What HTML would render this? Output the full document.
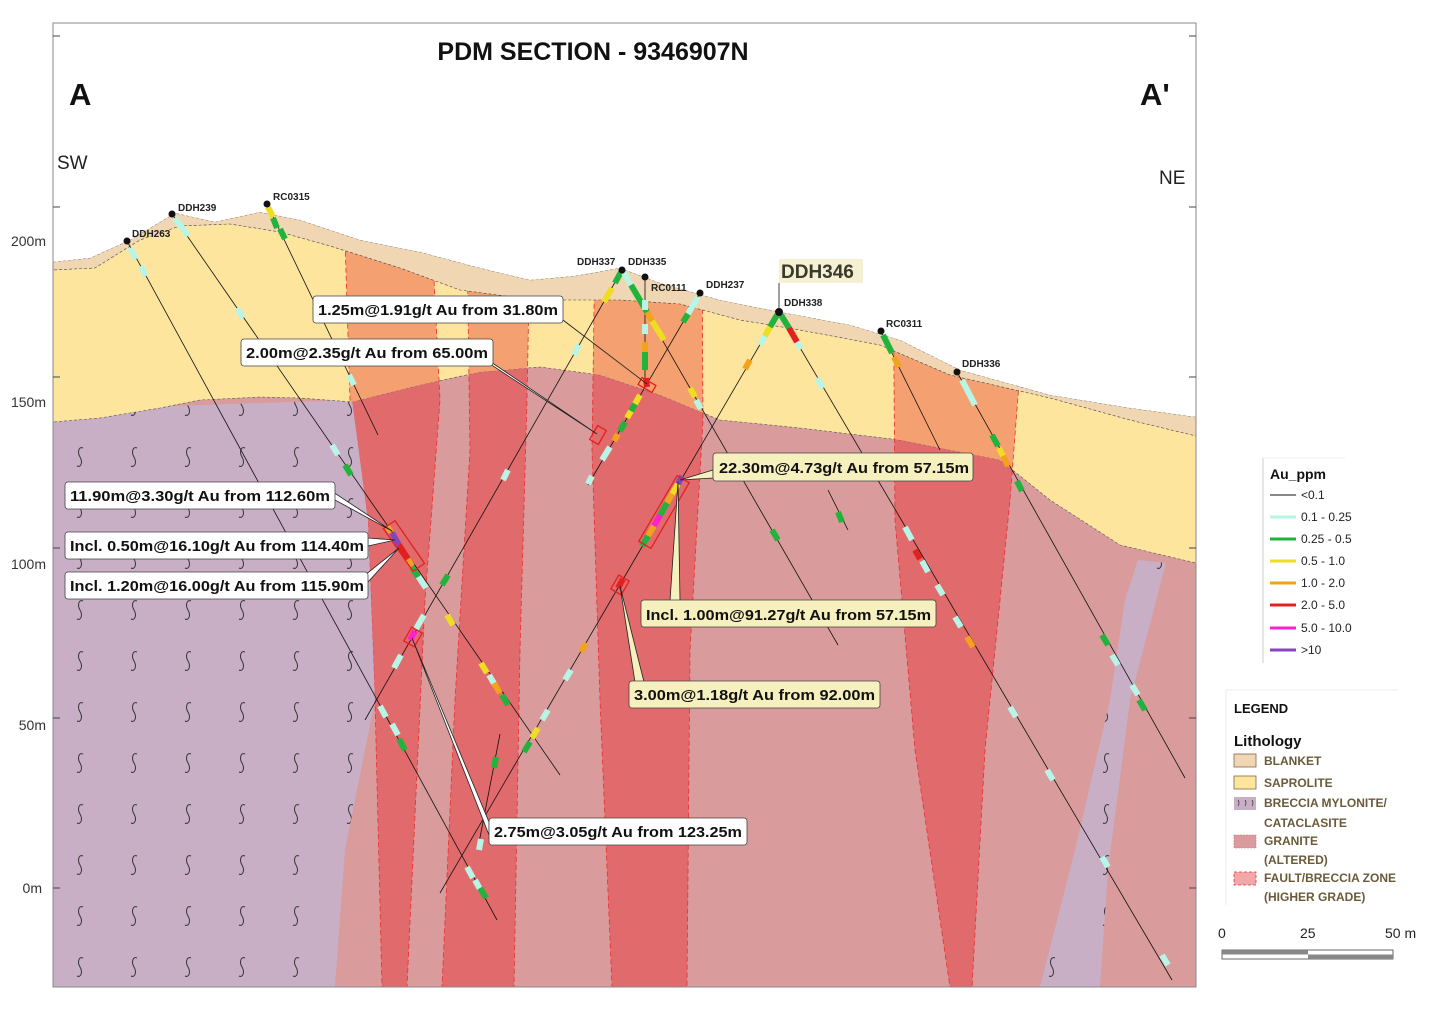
<!DOCTYPE html>
<html><head><meta charset="utf-8"><style>
html,body{margin:0;padding:0;background:#fff;}
svg{display:block;font-family:"Liberation Sans",sans-serif;}
.cl{font-weight:bold;font-size:15px;fill:#111;}
.dl{font-weight:bold;font-size:10px;fill:#222;}
.lg{font-size:12px;fill:#222;}
.lt{font-weight:bold;font-size:12px;fill:#6b5a3a;}
</style></head><body>
<svg width="1429" height="1011" viewBox="0 0 1429 1011" xmlns="http://www.w3.org/2000/svg">
<defs>
<pattern id="sq" x="53" y="430" width="54" height="51" patternUnits="userSpaceOnUse">
<path d="M30,18 c-4,-2 -6,4 -3,9 c3,5 1,11 -3,9" fill="none" stroke="#333" stroke-width="1"/>
</pattern>
<clipPath id="sap"><polygon points="53,262 90,258 130,240 175,213 215,222 260,212 300,220 360,240 420,252 480,268 530,280 575,276 620,268 660,283 720,300 780,312 850,325 900,340 960,370 1050,395 1130,408 1196,417 1196,563 1120,545 1050,500 1000,460 900,440 800,428 720,420 660,395 600,375 540,367 480,372 420,385 352,402 300,398 260,397 200,400 160,408 100,418 53,422"/></clipPath>
</defs>
<rect x="53" y="23" width="1143" height="964" fill="#d99b9b"/>
<g fill="#e06a6c" stroke="#e8302f" stroke-width="0.8" stroke-dasharray="5,3">
<polygon points="345,240 432,240 440,400 425,600 407,987 382,987 375,700 368,520 350,400"/>
<polygon points="467,240 530,240 527,400 520,650 514,987 442,987 455,700 470,450"/>
<polygon points="595,240 702,240 703,420 690,650 687,987 612,987 600,700 592,450"/>
<polygon points="893,240 1030,240 1010,500 985,750 972,987 950,987 915,750 895,520"/>
</g>
<g fill="#c8afc6">
<polygon points="53,410 352,400 368,520 375,700 345,850 335,987 53,987"/>
<polygon points="1138,560 1166,563 1130,700 1108,870 1100,987 1040,987 1075,850 1110,700 1125,600"/>
</g>
<g fill="url(#sq)">
<polygon points="53,410 352,400 368,520 375,700 345,850 335,987 53,987"/>
<polygon points="1138,560 1166,563 1130,700 1108,870 1100,987 1040,987 1075,850 1110,700 1125,600"/>
</g>
<polygon fill="#fde59e" stroke="#555" stroke-width="0.6" stroke-dasharray="3,2" points="53,262 90,258 130,240 175,213 215,222 260,212 300,220 360,240 420,252 480,268 530,280 575,276 620,268 660,283 720,300 780,312 850,325 900,340 960,370 1050,395 1130,408 1196,417 1196,563 1120,545 1050,500 1000,460 900,440 800,428 720,420 660,395 600,375 540,367 480,372 420,385 352,402 300,398 260,397 200,400 160,408 100,418 53,422"/>
<g clip-path="url(#sap)" fill="#f4a070" stroke="#e8302f" stroke-width="0.8" stroke-dasharray="5,3">
<polygon points="345,240 432,240 440,400 425,600 407,987 382,987 375,700 368,520 350,400"/>
<polygon points="467,240 530,240 527,400 520,650 514,987 442,987 455,700 470,450"/>
<polygon points="595,240 702,240 703,420 690,650 687,987 612,987 600,700 592,450"/>
<polygon points="893,240 1030,240 1010,500 985,750 972,987 950,987 915,750 895,520"/>
</g>
<polygon fill="#f0d6b2" stroke="#444" stroke-width="0.6" stroke-dasharray="3,2" points="53,262 90,258 130,240 175,213 215,222 260,212 300,220 360,240 420,252 480,268 530,280 575,276 620,268 660,283 720,300 780,312 850,325 900,340 960,370 1050,395 1130,408 1196,417 1196,436 1130,420 1050,398 950,375 880,345 800,330 740,320 680,304 620,300 560,300 520,298 460,290 400,268 330,246 280,232 230,224 180,226 140,240 95,268 53,270"/>
<polygon fill="#fff" points="53,23 1196,23 1196,417 1130,408 1050,395 960,370 900,340 850,325 780,312 720,300 660,283 620,268 575,276 530,280 480,268 420,252 360,240 300,220 260,212 215,222 175,213 130,240 90,258 53,262"/>

<!-- drill holes -->
<g stroke="#111" stroke-width="0.8" fill="none">
<line x1="127" y1="241" x2="497" y2="920"/>
<line x1="172" y1="214" x2="560" y2="775"/>
<line x1="267" y1="204" x2="378" y2="435"/>
<line x1="622" y1="270" x2="365" y2="720"/>
<line x1="622" y1="270" x2="838" y2="645"/>
<line x1="645" y1="277" x2="645" y2="385"/>
<line x1="700" y1="293" x2="588" y2="485"/>
<line x1="779" y1="312" x2="440" y2="893"/>
<line x1="779" y1="312" x2="1172" y2="980"/>
<line x1="881" y1="331" x2="940" y2="450"/>
<line x1="957" y1="372" x2="1185" y2="778"/>
<line x1="828" y1="490" x2="848" y2="530"/>
<line x1="500" y1="734" x2="478" y2="848"/>
<line x1="779" y1="283" x2="779" y2="310"/>
</g>
<g stroke-width="6" stroke-linecap="butt">
<!-- DDH263 -->
<g stroke="#b8f5e6"><line x1="130" y1="248" x2="136" y2="259"/><line x1="141" y1="266" x2="146" y2="276"/><line x1="380" y1="706" x2="386" y2="717"/><line x1="392" y1="724" x2="398" y2="735"/><line x1="467" y1="867" x2="473" y2="878"/><line x1="475" y1="880" x2="480" y2="889"/></g>
<g stroke="#22b33c"><line x1="399" y1="739" x2="405" y2="750"/><line x1="480" y1="888" x2="486" y2="898"/></g>
<!-- DDH239 -->
<g stroke="#b8f5e6"><line x1="175" y1="218" x2="188" y2="236"/><line x1="237" y1="308" x2="243" y2="318"/><line x1="332" y1="445" x2="338" y2="455"/><line x1="418" y1="576" x2="426" y2="588"/><line x1="489" y1="675" x2="495" y2="685"/></g>
<g stroke="#22b33c"><line x1="345" y1="465" x2="351" y2="475"/><line x1="412" y1="567" x2="418" y2="577"/><line x1="502" y1="695" x2="508" y2="705"/></g>
<g stroke="#f2a21c"><line x1="387" y1="526" x2="391" y2="532"/><line x1="407" y1="558" x2="412" y2="566"/><line x1="494" y1="683" x2="500" y2="693"/></g>
<line stroke="#8844bb" x1="392" y1="533" x2="399" y2="545"/>
<line stroke="#e32020" x1="399" y1="545" x2="408" y2="559"/>
<g stroke="#eedd22"><line x1="447" y1="615" x2="453" y2="625"/><line x1="481" y1="663" x2="487" y2="673"/></g>
<!-- RC0315 -->
<line stroke="#eedd22" x1="268" y1="207" x2="273" y2="217"/>
<g stroke="#22b33c"><line x1="273" y1="218" x2="277" y2="228"/><line x1="280" y1="229" x2="285" y2="239"/></g>
<line stroke="#b8f5e6" x1="349" y1="375" x2="354" y2="385"/>
<!-- DDH337 -->
<g stroke="#22b33c"><line x1="621" y1="272" x2="615" y2="283"/><line x1="448" y1="575" x2="442" y2="585"/></g>
<g stroke="#eedd22"><line x1="612" y1="288" x2="604" y2="302"/></g>
<g stroke="#b8f5e6"><line x1="579" y1="345" x2="574" y2="355"/><line x1="508" y1="470" x2="503" y2="480"/><line x1="424" y1="615" x2="416" y2="629"/><line x1="401" y1="655" x2="394" y2="668"/></g>
<line stroke="#ff22cc" x1="415" y1="631" x2="410" y2="640"/>
<!-- DDH335 -->
<line stroke="#b8f5e6" x1="624" y1="273" x2="631" y2="285"/>
<line stroke="#22b33c" x1="631" y1="285" x2="647" y2="312"/>
<line stroke="#f2a21c" x1="647" y1="312" x2="652" y2="321"/>
<line stroke="#eedd22" x1="652" y1="321" x2="664" y2="340"/>
<line stroke="#eedd22" x1="690" y1="388" x2="695" y2="397"/>
<line stroke="#b8f5e6" x1="696" y1="400" x2="701" y2="409"/>
<line stroke="#22b33c" x1="772" y1="530" x2="778" y2="540"/>
<!-- RC0111 -->
<line stroke="#b8f5e6" x1="645" y1="300" x2="645" y2="310"/>
<line stroke="#b8f5e6" x1="645" y1="324" x2="645" y2="334"/>
<line stroke="#f2a21c" x1="645" y1="342" x2="645" y2="352"/>
<line stroke="#22b33c" x1="645" y1="352" x2="645" y2="370"/>
<line stroke="#e32020" x1="646" y1="378" x2="647" y2="387"/>
<!-- DDH237 -->
<line stroke="#b8f5e6" x1="698" y1="297" x2="688" y2="314"/>
<line stroke="#22b33c" x1="688" y1="314" x2="683" y2="322"/>
<g stroke="#eedd22"><line x1="640" y1="395" x2="635" y2="404"/><line x1="631" y1="411" x2="627" y2="418"/></g>
<g stroke="#22b33c"><line x1="635" y1="404" x2="631" y2="411"/><line x1="625" y1="422" x2="620" y2="431"/></g>
<line stroke="#f2a21c" x1="618" y1="434" x2="614" y2="441"/>
<g stroke="#b8f5e6"><line x1="610" y1="447" x2="602" y2="460"/><line x1="592" y1="476" x2="588" y2="484"/></g>
<!-- DDH346 SW -->
<line stroke="#22b33c" x1="777" y1="315" x2="770" y2="327"/>
<line stroke="#eedd22" x1="770" y1="327" x2="765" y2="336"/>
<line stroke="#b8f5e6" x1="765" y1="336" x2="760" y2="345"/>
<line stroke="#f2a21c" x1="750" y1="360" x2="745" y2="369"/>
<line stroke="#8844bb" x1="682" y1="476" x2="678" y2="484"/>
<line stroke="#eedd22" x1="678" y1="484" x2="672" y2="494"/>
<line stroke="#f2a21c" x1="672" y1="494" x2="667" y2="503"/>
<line stroke="#22b33c" x1="667" y1="503" x2="660" y2="515"/>
<line stroke="#ff22cc" x1="660" y1="515" x2="654" y2="526"/>
<line stroke="#f2a21c" x1="654" y1="526" x2="648" y2="536"/>
<line stroke="#22b33c" x1="648" y1="536" x2="642" y2="546"/>
<line stroke="#e32020" x1="623" y1="579" x2="618" y2="588"/>
<line stroke="#f2a21c" x1="586" y1="643" x2="581" y2="652"/>
<g stroke="#b8f5e6"><line x1="571" y1="670" x2="565" y2="680"/><line x1="548" y1="710" x2="542" y2="720"/></g>
<line stroke="#eedd22" x1="538" y1="728" x2="532" y2="738"/>
<line stroke="#22b33c" x1="530" y1="742" x2="524" y2="752"/>
<!-- DDH338 NE -->
<line stroke="#22b33c" x1="781" y1="315" x2="789" y2="328"/>
<line stroke="#e32020" x1="789" y1="328" x2="797" y2="342"/>
<g stroke="#b8f5e6"><line x1="797" y1="342" x2="801" y2="349"/><line x1="817" y1="378" x2="823" y2="388"/><line x1="905" y1="527" x2="912" y2="540"/><line x1="922" y1="561" x2="928" y2="572"/><line x1="937" y1="585" x2="943" y2="595"/><line x1="955" y1="617" x2="961" y2="627"/><line x1="1010" y1="707" x2="1016" y2="717"/><line x1="1047" y1="770" x2="1053" y2="780"/><line x1="1102" y1="857" x2="1108" y2="867"/><line x1="1162" y1="955" x2="1168" y2="965"/></g>
<line stroke="#e32020" x1="915" y1="550" x2="920" y2="559"/>
<line stroke="#f2a21c" x1="967" y1="637" x2="973" y2="647"/>
<!-- RC0311 -->
<line stroke="#22b33c" x1="883" y1="335" x2="892" y2="353"/>
<line stroke="#f2a21c" x1="894" y1="357" x2="899" y2="367"/>
<!-- DDH336 -->
<g stroke="#b8f5e6"><line x1="962" y1="380" x2="975" y2="405"/><line x1="1112" y1="655" x2="1118" y2="665"/><line x1="1132" y1="685" x2="1138" y2="695"/></g>
<g stroke="#22b33c"><line x1="992" y1="435" x2="998" y2="446"/><line x1="1017" y1="481" x2="1022" y2="491"/><line x1="1102" y1="635" x2="1108" y2="645"/><line x1="1139" y1="700" x2="1145" y2="710"/></g>
<line stroke="#eedd22" x1="999" y1="448" x2="1003" y2="456"/>
<line stroke="#f2a21c" x1="1003" y1="456" x2="1008" y2="466"/>
<line stroke="#22b33c" x1="838" y1="512" x2="842" y2="522"/>
<line stroke="#22b33c" x1="496" y1="757" x2="494" y2="768"/>
<line stroke="#b8f5e6" x1="481" y1="839" x2="479" y2="850"/>
</g>
<!-- intercept boxes -->
<g fill="none" stroke="#e32020" stroke-width="1.3">
<rect x="-26" y="-7" width="52" height="14" transform="translate(404,546) rotate(55.3)"/>
<rect x="-38" y="-7" width="76" height="14" transform="translate(664,512) rotate(120.3)"/>
<rect x="-8" y="-6" width="16" height="12" transform="translate(620,585) rotate(120.3)"/>
<rect x="-8" y="-6" width="16" height="12" transform="translate(413,637) rotate(119.7)"/>
<rect x="-8" y="-4" width="16" height="8" transform="translate(647,385) rotate(30)"/>
<rect x="-8" y="-5" width="16" height="10" transform="translate(598,435) rotate(120)"/>
</g>
<!-- collars -->
<g fill="#111">
<circle cx="127" cy="241" r="3.5"/><circle cx="172" cy="214" r="3.5"/><circle cx="267" cy="204" r="3.5"/><circle cx="622" cy="270" r="3.5"/><circle cx="645" cy="277" r="3.5"/><circle cx="700" cy="293" r="3.5"/><circle cx="779" cy="312" r="4"/><circle cx="881" cy="331" r="3.5"/><circle cx="957" cy="372" r="3.5"/>
</g>
<g class="dl">
<text x="132" y="237">DDH263</text><text x="178" y="211">DDH239</text><text x="273" y="200">RC0315</text><text x="577" y="265">DDH337</text><text x="628" y="265">DDH335</text><text x="651" y="291">RC0111</text><text x="706" y="288">DDH237</text><text x="784" y="306">DDH338</text><text x="886" y="327">RC0311</text><text x="962" y="367">DDH336</text>
</g>
<rect x="779" y="259" width="84" height="24" fill="#f5f0d4"/>
<text x="781" y="278" font-weight="bold" font-size="19" fill="#3a3a2a">DDH346</text>

<!-- callout pointers -->
<g stroke="#222" stroke-width="0.8">
<polygon fill="#fff" points="555,314 563,320 647,384"/>
<polygon fill="#fff" points="488,360 493,366 597,434"/>
<polygon fill="#fff" points="330,490 335,500 392,531"/>
<polygon fill="#fff" points="368,538 368,546 395,540"/>
<polygon fill="#fff" points="365,575 368,582 399,548"/>
<polygon fill="#fff" points="489,822 489,835 412,638"/>
<polygon fill="#f6efbe" points="713,470 713,478 680,480"/>
<polygon fill="#f6efbe" points="670,601 680,601 678,482"/>
<polygon fill="#f6efbe" points="635,682 644,682 620,586"/>
</g>
<!-- callout boxes -->
<g stroke="#444" stroke-width="0.8">
<rect x="313" y="296" width="250" height="27" rx="3" fill="#fff"/>
<rect x="241" y="339" width="252" height="27" rx="3" fill="#fff"/>
<rect x="65" y="482" width="270" height="27" rx="3" fill="#fff"/>
<rect x="65" y="532" width="303" height="27" rx="3" fill="#fff"/>
<rect x="65" y="572" width="303" height="27" rx="3" fill="#fff"/>
<rect x="489" y="818" width="258" height="27" rx="3" fill="#fff"/>
<rect x="713" y="453" width="260" height="28" rx="3" fill="#f6efbe"/>
<rect x="641" y="600" width="295" height="27" rx="3" fill="#f6efbe"/>
<rect x="629" y="681" width="251" height="27" rx="3" fill="#f6efbe"/>
</g>
<g class="cl" lengthAdjust="spacingAndGlyphs">
<text x="318" y="315" textLength="240" lengthAdjust="spacingAndGlyphs">1.25m@1.91g/t Au from 31.80m</text>
<text x="246" y="358" textLength="242" lengthAdjust="spacingAndGlyphs">2.00m@2.35g/t Au from 65.00m</text>
<text x="70" y="501" textLength="260" lengthAdjust="spacingAndGlyphs">11.90m@3.30g/t Au from 112.60m</text>
<text x="70" y="551" textLength="294" lengthAdjust="spacingAndGlyphs">Incl. 0.50m@16.10g/t Au from 114.40m</text>
<text x="70" y="591" textLength="294" lengthAdjust="spacingAndGlyphs">Incl. 1.20m@16.00g/t Au from 115.90m</text>
<text x="494" y="837" textLength="248" lengthAdjust="spacingAndGlyphs">2.75m@3.05g/t Au from 123.25m</text>
<text x="719" y="473" textLength="250" lengthAdjust="spacingAndGlyphs">22.30m@4.73g/t Au from 57.15m</text>
<text x="646" y="620" textLength="285" lengthAdjust="spacingAndGlyphs">Incl. 1.00m@91.27g/t Au from 57.15m</text>
<text x="634" y="700" textLength="241" lengthAdjust="spacingAndGlyphs">3.00m@1.18g/t Au from 92.00m</text>
</g>

<!-- frame & axes -->
<rect x="53" y="23" width="1143" height="964" fill="none" stroke="#888" stroke-width="1"/>
<g stroke="#444" stroke-width="1">
<line x1="53" y1="36" x2="60" y2="36"/><line x1="53" y1="207" x2="60" y2="207"/><line x1="53" y1="377" x2="60" y2="377"/><line x1="53" y1="548" x2="60" y2="548"/><line x1="53" y1="718" x2="60" y2="718"/><line x1="53" y1="888" x2="60" y2="888"/>
<line x1="1189" y1="36" x2="1196" y2="36"/><line x1="1189" y1="207" x2="1196" y2="207"/><line x1="1189" y1="377" x2="1196" y2="377"/><line x1="1189" y1="548" x2="1196" y2="548"/><line x1="1189" y1="718" x2="1196" y2="718"/><line x1="1189" y1="888" x2="1196" y2="888"/>
</g>
<g font-size="14" fill="#333" text-anchor="end">
<text x="46" y="246">200m</text><text x="46" y="407">150m</text><text x="46" y="569">100m</text><text x="46" y="730">50m</text><text x="42" y="893">0m</text>
</g>
<text x="593" y="60" text-anchor="middle" font-weight="bold" font-size="25" fill="#111">PDM SECTION - 9346907N</text>
<text x="69" y="105" font-weight="bold" font-size="31" fill="#111">A</text>
<text x="1140" y="105" font-weight="bold" font-size="31" fill="#111">A'</text>
<text x="57" y="169" font-size="19" fill="#222">SW</text>
<text x="1159" y="184" font-size="19" fill="#222">NE</text>

<!-- Au legend -->
<line x1="1263" y1="458" x2="1263" y2="663" stroke="#ccc"/>
<line x1="1263" y1="458" x2="1345" y2="458" stroke="#eee"/>
<text x="1270" y="479" font-weight="bold" font-size="14" fill="#111">Au_ppm</text>
<g stroke-width="3">
<line x1="1270" y1="495" x2="1296" y2="495" stroke="#111" stroke-width="1"/>
<line x1="1270" y1="517" x2="1296" y2="517" stroke="#b8f5e6"/>
<line x1="1270" y1="539" x2="1296" y2="539" stroke="#22b33c"/>
<line x1="1270" y1="561" x2="1296" y2="561" stroke="#eedd22"/>
<line x1="1270" y1="583" x2="1296" y2="583" stroke="#f2a21c"/>
<line x1="1270" y1="605" x2="1296" y2="605" stroke="#e32020"/>
<line x1="1270" y1="628" x2="1296" y2="628" stroke="#ff22cc"/>
<line x1="1270" y1="650" x2="1296" y2="650" stroke="#8844bb"/>
</g>
<g class="lg">
<text x="1301" y="499">&lt;0.1</text><text x="1301" y="521">0.1 - 0.25</text><text x="1301" y="543">0.25 - 0.5</text><text x="1301" y="565">0.5 - 1.0</text><text x="1301" y="587">1.0 - 2.0</text><text x="1301" y="609">2.0 - 5.0</text><text x="1301" y="632">5.0 - 10.0</text><text x="1301" y="654">&gt;10</text>
</g>
<!-- Lithology legend -->
<line x1="1226" y1="690" x2="1398" y2="690" stroke="#eee"/>
<line x1="1226" y1="690" x2="1226" y2="905" stroke="#eee"/>
<text x="1234" y="713" font-weight="bold" font-size="13" fill="#111">LEGEND</text>
<text x="1234" y="746" font-weight="bold" font-size="15" fill="#111">Lithology</text>
<rect x="1234" y="754" width="22" height="13" fill="#f0d6b2" stroke="#7a6a50" stroke-width="0.8"/>
<rect x="1234" y="776" width="22" height="13" fill="#fde59e" stroke="#7a6a50" stroke-width="0.8"/>
<rect x="1234" y="797" width="22" height="13" fill="#c8afc6"/>
<path d="M1238,800 q2,3 0,6 M1245,800 q2,3 0,6 M1252,800 q2,3 0,6" stroke="#333" stroke-width="0.7" fill="none"/>
<rect x="1234" y="835" width="22" height="13" fill="#d99b9b" stroke="#c77" stroke-width="0.6" stroke-dasharray="2,1"/>
<rect x="1234" y="872" width="22" height="13" fill="#f2a7a8" stroke="#e33" stroke-width="0.8" stroke-dasharray="3,2"/>
<g class="lt">
<text x="1264" y="765">BLANKET</text><text x="1264" y="787">SAPROLITE</text><text x="1264" y="807">BRECCIA MYLONITE/</text><text x="1264" y="827">CATACLASITE</text><text x="1264" y="845">GRANITE</text><text x="1264" y="864">(ALTERED)</text><text x="1264" y="882">FAULT/BRECCIA ZONE</text><text x="1264" y="901">(HIGHER GRADE)</text>
</g>
<!-- scale bar -->
<g font-size="14" fill="#222">
<text x="1218" y="938">0</text><text x="1300" y="938">25</text><text x="1385" y="938">50 m</text>
</g>
<rect x="1222" y="950" width="171" height="9" fill="#fff" stroke="#444" stroke-width="0.8"/>
<rect x="1222" y="950" width="86" height="4.5" fill="#888"/>
<rect x="1308" y="954.5" width="85" height="4.5" fill="#888"/>
</svg>
</body></html>
